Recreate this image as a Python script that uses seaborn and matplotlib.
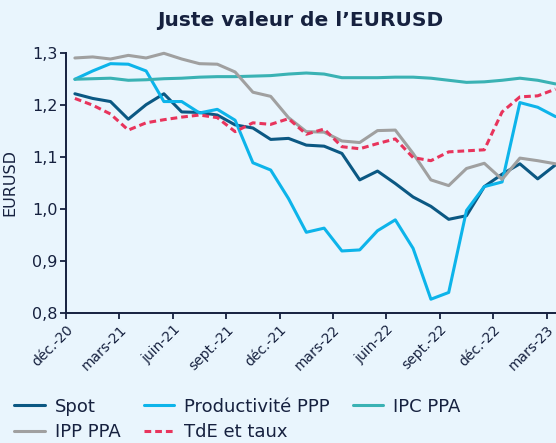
import matplotlib
matplotlib.use("Agg")
import matplotlib.pyplot as plt
import seaborn as sns
import pandas as pd
import numpy as np

# ---- data ----
tick_labels = ["déc.-20", "mars-21", "juin-21", "sept.-21", "déc.-21",
               "mars-22", "juin-22", "sept.-22", "déc.-22", "mars-23"]

spot = [1.222, 1.213, 1.207, 1.173, 1.201, 1.222, 1.187, 1.186, 1.181, 1.162,
        1.156, 1.134, 1.136, 1.123, 1.121, 1.107, 1.056, 1.073, 1.049, 1.023,
        1.005, 0.980, 0.987, 1.043, 1.067, 1.087, 1.058, 1.085]
productivite = [1.250, 1.266, 1.280, 1.279, 1.266, 1.207, 1.207, 1.185, 1.192, 1.171,
                1.089, 1.075, 1.020, 0.955, 0.963, 0.919, 0.921, 0.958, 0.979, 0.924,
                0.826, 0.839, 0.997, 1.043, 1.052, 1.205, 1.196, 1.178]
ipc_ppa = [1.250, 1.251, 1.252, 1.248, 1.249, 1.251, 1.252, 1.254, 1.255, 1.255,
           1.256, 1.257, 1.260, 1.262, 1.260, 1.253, 1.253, 1.253, 1.254, 1.254,
           1.252, 1.248, 1.244, 1.245, 1.248, 1.252, 1.248, 1.241]
ipp_ppa = [1.291, 1.293, 1.289, 1.296, 1.291, 1.300, 1.289, 1.280, 1.279, 1.264,
           1.225, 1.217, 1.176, 1.149, 1.148, 1.131, 1.128, 1.151, 1.152, 1.107,
           1.056, 1.045, 1.078, 1.088, 1.057, 1.098, 1.093, 1.087]
tde_taux = [1.213, 1.200, 1.183, 1.152, 1.166, 1.172, 1.177, 1.181, 1.176, 1.149,
            1.166, 1.163, 1.174, 1.144, 1.154, 1.120, 1.116, 1.126, 1.135, 1.099,
            1.093, 1.110, 1.112, 1.114, 1.187, 1.216, 1.218, 1.231]

months = np.arange(len(spot)) + 0.5   # monthly points, centred within each month

series = {
    "Spot": (spot, "#0B5883", "-"),
    "Productivité PPP": (productivite, "#0DB4EA", "-"),
    "IPC PPA": (ipc_ppa, "#3AB2B4", "-"),
    "IPP PPA": (ipp_ppa, "#A0A0A0", "-"),
    "TdE et taux": (tde_taux, "#E8345C", "--"),
}

BG = "#E9F5FD"
NAVY = "#16213F"

sns.set_style("ticks", {"axes.facecolor": BG, "figure.facecolor": BG})
plt.rcParams["font.family"] = ["DejaVu Sans"]

fig = plt.figure(figsize=(5.56, 4.43), dpi=100)
fig.patch.set_facecolor(BG)
ax = fig.add_axes([66 / 556, 1 - 312.7 / 443, 498.4 / 556, (312.7 - 53.3) / 443])
ax.set_facecolor(BG)

handles = {}
for name, (vals, col, ls) in series.items():
    df = pd.DataFrame({"x": months, "y": vals})
    sns.lineplot(data=df, x="x", y="y", ax=ax, color=col, linewidth=2.2,
                 linestyle=ls, label=name, legend=False)
    line = ax.get_lines()[-1]
    line.set_clip_on(False)
    if ls == "--":
        line.set_dashes([2.2, 1.3])
    handles[name] = line

ax.set_xlim(0, 28)
ax.set_ylim(0.8, 1.3)
ax.set_xticks(np.arange(0, 28, 3))
ax.set_xticklabels(tick_labels, rotation=45, ha="right", va="top",
                   rotation_mode="anchor", fontsize=10, color=NAVY)
ax.set_yticks([0.8, 0.9, 1.0, 1.1, 1.2, 1.3])
ax.set_yticklabels(["0,8", "0,9", "1,0", "1,1", "1,2", "1,3"], fontsize=11.5, color=NAVY)
ax.tick_params(axis="both", direction="out", length=4, width=1.3, color=NAVY)
ax.tick_params(axis="y", pad=2)
ax.tick_params(axis="x", pad=3)
ax.set_xlabel("")
ax.set_ylabel("EURUSD", fontsize=11.5, color=NAVY)
ax.yaxis.set_label_coords(-0.098, 0.5)

for s in ["top", "right"]:
    ax.spines[s].set_visible(False)
for s in ["left", "bottom"]:
    ax.spines[s].set_color(NAVY)
    ax.spines[s].set_linewidth(1.4)

fig.text(0.54, 0.953, "Juste valeur de l\u2019EURUSD", ha="center", va="center",
         fontsize=14.5, fontweight="heavy", color=NAVY)

order = ["Spot", "IPP PPA", "Productivité PPP", "TdE et taux", "IPC PPA"]
leg = fig.legend([handles[n] for n in order], order, ncol=3, loc="upper left",
                 bbox_to_anchor=(0.026, 0.102), frameon=False, fontsize=13,
                 handlelength=1.67, handletextpad=0.55, columnspacing=1.3,
                 labelspacing=0.4, borderaxespad=0, borderpad=0, labelcolor=NAVY)

fig.savefig("out.png", dpi=100, facecolor=BG)
